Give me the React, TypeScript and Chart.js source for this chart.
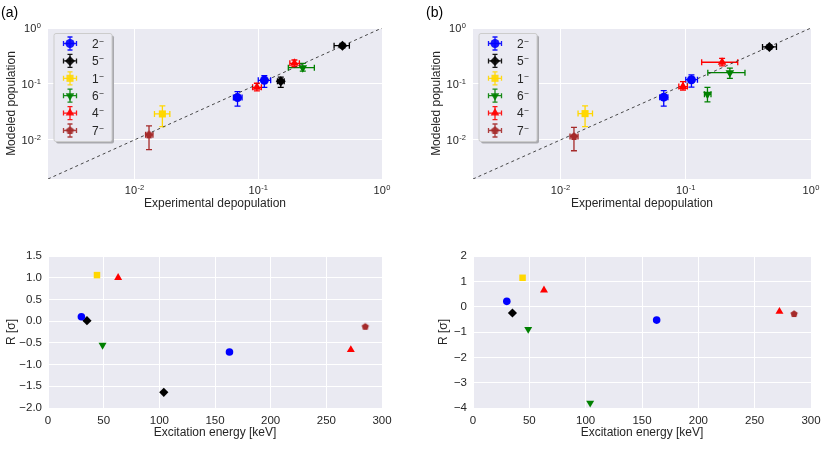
import { useEffect, useRef } from 'react';
import { Chart, registerables } from 'chart.js';
import { drawPoint } from 'chart.js/helpers';

Chart.register(...registerables);

const FONT = "'Liberation Sans', Arial, sans-serif";
const INK = '#262626';
const PANEL_BG = '#eaeaf2';
const CAP = 3;

Chart.defaults.font.family = FONT;
Chart.defaults.color = INK;

const spinLabels = ['2⁻', '5⁻', '1⁻', '6⁻', '4⁻', '7⁻'];
const decadeTicks = [0.01, 0.1, 1];
const decadeExponents = ['-2', '-1', '0'];
const diagonal = [0.002, 1];

// top panels, one row per point: [exp, expLo, expHi, model, modelLo, modelHi]
const popA2 = [[0.068, 0.063, 0.074, 0.057, 0.04, 0.073], [0.112, 0.1, 0.126, 0.116, 0.087, 0.14]];
const popA5 = [[0.479, 0.41, 0.545, 0.483, 0.44, 0.53], [0.152, 0.143, 0.162, 0.112, 0.087, 0.132]];
const popA1 = [[0.0168, 0.0145, 0.0193, 0.0291, 0.0173, 0.0405]];
const popA6 = [[0.229, 0.175, 0.284, 0.195, 0.17, 0.234]];
const popA4 = [[0.0975, 0.09, 0.106, 0.087, 0.075, 0.103], [0.196, 0.18, 0.215, 0.234, 0.204, 0.268]];
const popA7 = [[0.0131, 0.0123, 0.0141, 0.0123, 0.0067, 0.0178]];

const popB2 = [[0.0667, 0.062, 0.072, 0.058, 0.04, 0.076], [0.111, 0.1, 0.124, 0.119, 0.088, 0.145]];
const popB5 = [[0.465, 0.41, 0.53, 0.458, 0.42, 0.5]];
const popB1 = [[0.0157, 0.0138, 0.018, 0.0295, 0.0173, 0.0405]];
const popB6 = [[0.225, 0.15, 0.297, 0.159, 0.126, 0.191], [0.149, 0.141, 0.159, 0.0655, 0.048, 0.087]];
const popB4 = [[0.095, 0.088, 0.103, 0.0896, 0.078, 0.11], [0.195, 0.134, 0.26, 0.244, 0.21, 0.287]];
const popB7 = [[0.0128, 0.0119, 0.0138, 0.0115, 0.0064, 0.0168]];

// bottom panels: [excitation energy keV, R in sigma]
const resA2 = [[30, 0.1], [163, -0.71]];
const resA5 = [[35, 0.01], [104, -1.64]];
const resA1 = [[44, 1.06]];
const resA6 = [[49, -0.55]];
const resA4 = [[63, 1.0], [272, -0.66]];
const resA7 = [[285, -0.13]];

const resB2 = [[30, 0.21], [163, -0.53]];
const resB5 = [[35, -0.25]];
const resB1 = [[44, 1.14]];
const resB6 = [[49, -0.89], [104, -3.8]];
const resB4 = [[63, 0.65], [272, -0.19]];
const resB7 = [[285, -0.29]];

const colors = ['#0000ff', '#000000', '#ffd700', '#008000', '#ff0000', '#a52a2a'];
const shapes = ['circle', 'rectRot', 'rect', 'triangle', 'triangle', 'pentagon'];
const rotations = [0, 0, 0, 180, 0, 0];

function pentagon(color: string, r: number) {
  const c = document.createElement('canvas');
  const s = Math.ceil(2 * r + 2);
  c.width = s;
  c.height = s;
  const g = c.getContext('2d')!;
  g.fillStyle = color;
  g.beginPath();
  for (let k = 0; k < 5; k++) {
    const a = -Math.PI / 2 + (k * 2 * Math.PI) / 5;
    const px = s / 2 + r * Math.cos(a);
    const py = s / 2 + r * Math.sin(a);
    if (k === 0) g.moveTo(px, py);
    else g.lineTo(px, py);
  }
  g.closePath();
  g.fill();
  return c;
}

function markerStyle(i: number, r: number) {
  return shapes[i] === 'pentagon' ? pentagon(colors[i], r) : shapes[i];
}

const panelBg = {
  id: 'panelBg',
  beforeDraw(chart: any) {
    const { ctx, chartArea: a } = chart;
    ctx.save();
    ctx.fillStyle = PANEL_BG;
    ctx.fillRect(a.left, a.top, a.width, a.height);
    ctx.restore();
  },
};

const errorBars = {
  id: 'errorBars',
  beforeDatasetsDraw(chart: any) {
    const { ctx, scales } = chart;
    const x = scales.x;
    const y = scales.y;
    ctx.save();
    ctx.lineWidth = 1.3;
    chart.data.datasets.forEach((ds: any) => {
      if (!ds.errorBars) return;
      ctx.strokeStyle = ds.pointBackgroundColor;
      ds.data.forEach((p: any) => {
        const px = x.getPixelForValue(p.x);
        const py = y.getPixelForValue(p.y);
        const x1 = x.getPixelForValue(p.xLo);
        const x2 = x.getPixelForValue(p.xHi);
        const y1 = y.getPixelForValue(p.yLo);
        const y2 = y.getPixelForValue(p.yHi);
        ctx.beginPath();
        ctx.moveTo(x1, py);
        ctx.lineTo(x2, py);
        ctx.moveTo(x1, py - CAP);
        ctx.lineTo(x1, py + CAP);
        ctx.moveTo(x2, py - CAP);
        ctx.lineTo(x2, py + CAP);
        ctx.moveTo(px, y1);
        ctx.lineTo(px, y2);
        ctx.moveTo(px - CAP, y1);
        ctx.lineTo(px + CAP, y1);
        ctx.moveTo(px - CAP, y2);
        ctx.lineTo(px + CAP, y2);
        ctx.stroke();
      });
    });
    ctx.restore();
  },
};

// draw "10^n" labels for the log axes with a raised, smaller exponent
function drawPower(ctx: any, exp: string, x: number, yMid: number, align: 'center' | 'right') {
  ctx.font = `11px ${FONT}`;
  const wBase = ctx.measureText('10').width;
  ctx.font = `7.5px ${FONT}`;
  const wExp = ctx.measureText(exp).width;
  const total = wBase + wExp + 0.5;
  const x0 = align === 'center' ? x - total / 2 : x - total;
  const base = yMid + 4;
  ctx.fillStyle = INK;
  ctx.textAlign = 'left';
  ctx.textBaseline = 'alphabetic';
  ctx.font = `11px ${FONT}`;
  ctx.fillText('10', x0, base);
  ctx.font = `7.5px ${FONT}`;
  ctx.fillText(exp, x0 + wBase + 0.5, base - 3.8);
}

const powerTicks = {
  id: 'powerTicks',
  afterDraw(chart: any) {
    const { ctx, chartArea, scales } = chart;
    ctx.save();
    decadeTicks.forEach((v, i) => {
      drawPower(ctx, decadeExponents[i], scales.x.getPixelForValue(v), chartArea.bottom + 11, 'center');
      drawPower(ctx, decadeExponents[i], chartArea.left - 7, scales.y.getPixelForValue(v), 'right');
    });
    ctx.restore();
  },
};

// matplotlib-like legend box inside the axes
const legendBox = {
  id: 'legendBox',
  afterDatasetsDraw(chart: any, _args: any, opts: any) {
    if (!opts || !opts.show) return;
    const { ctx, chartArea } = chart;
    const items = chart.data.datasets.filter((d: any) => d.errorBars);
    const bx = chartArea.left + 6;
    const by = chartArea.top + 5.5;
    const bw = 58;
    const bh = 108;
    ctx.save();
    ctx.fillStyle = '#a9a9ae';
    ctx.beginPath();
    ctx.roundRect(bx + 2, by + 2, bw, bh, 2);
    ctx.fill();
    ctx.fillStyle = PANEL_BG;
    ctx.strokeStyle = '#cccccc';
    ctx.lineWidth = 1;
    ctx.beginPath();
    ctx.roundRect(bx, by, bw, bh, 2);
    ctx.fill();
    ctx.stroke();
    items.forEach((ds: any, i: number) => {
      const cy = by + 10 + i * 17.4;
      const mx = bx + 16;
      ctx.globalAlpha = 0.9;
      ctx.strokeStyle = ds.pointBackgroundColor;
      ctx.fillStyle = ds.pointBackgroundColor;
      ctx.lineWidth = 1.3;
      ctx.beginPath();
      ctx.moveTo(mx - 6.5, cy);
      ctx.lineTo(mx + 6.5, cy);
      ctx.moveTo(mx - 6.5, cy - 2.5);
      ctx.lineTo(mx - 6.5, cy + 2.5);
      ctx.moveTo(mx + 6.5, cy - 2.5);
      ctx.lineTo(mx + 6.5, cy + 2.5);
      ctx.moveTo(mx, cy - 6.5);
      ctx.lineTo(mx, cy + 6.5);
      ctx.moveTo(mx - 2.5, cy - 6.5);
      ctx.lineTo(mx + 2.5, cy - 6.5);
      ctx.moveTo(mx - 2.5, cy + 6.5);
      ctx.lineTo(mx + 2.5, cy + 6.5);
      ctx.stroke();
      drawPoint(ctx, { pointStyle: ds.pointStyle, rotation: ds.rotation, radius: ds.pointRadius, borderWidth: 0 }, mx, cy);
      ctx.globalAlpha = 1;
      // spin label: digit with a raised minus
      const digit = ds.label.replace('⁻', '');
      ctx.fillStyle = INK;
      ctx.textAlign = 'left';
      ctx.textBaseline = 'alphabetic';
      ctx.font = `12px ${FONT}`;
      ctx.fillText(digit, bx + 38, cy + 4.3);
      const w = ctx.measureText(digit).width;
      ctx.font = `8.5px ${FONT}`;
      ctx.fillText('−', bx + 38 + w + 0.5, cy + 0.3);
    });
    ctx.restore();
  },
};

const tickFont = { family: FONT, size: 11.5 };
const titleFont = { family: FONT, size: 12 };

function fixY(w: number) {
  return (s: any) => {
    s.width = w;
    s.paddingTop = 0;
    s.paddingBottom = 0;
  };
}
function fixX(h: number) {
  return (s: any) => {
    s.height = h;
    s.paddingLeft = 0;
    s.paddingRight = 0;
  };
}

const gridOpts = { color: '#ffffff', lineWidth: 1, drawTicks: false };

function popConfig(groups: number[][][], padRight: number): any {
  const radii = [4.5, 5, 5, 5, 5, 4.2];
  const datasets: any[] = groups.map((rows, i) => ({
    type: 'scatter',
    label: spinLabels[i],
    data: rows.map((r) => ({ x: r[0], xLo: r[1], xHi: r[2], y: r[3], yLo: r[4], yHi: r[5] })),
    pointStyle: markerStyle(i, radii[i]),
    rotation: rotations[i],
    pointRadius: radii[i],
    pointBackgroundColor: colors[i],
    pointBorderColor: colors[i],
    pointBorderWidth: 0,
    errorBars: true,
    order: 1,
  }));
  datasets.push({
    type: 'line',
    label: '',
    data: diagonal.map((v) => ({ x: v, y: v })),
    borderColor: '#333333',
    borderWidth: 0.9,
    borderDash: [3, 3],
    pointRadius: 0,
    order: 5,
  });
  const logAxis = (title: string, fit: any) => ({
    type: 'logarithmic',
    min: 0.002,
    max: 1,
    afterBuildTicks: (s: any) => {
      s.ticks = decadeTicks.map((v) => ({ value: v, major: true }));
    },
    afterFit: fit,
    ticks: { display: false },
    grid: gridOpts,
    border: { display: false },
    title: { display: true, text: title, font: titleFont, color: INK, padding: 4 },
  });
  return {
    type: 'scatter',
    data: { datasets },
    options: {
      animation: false,
      responsive: false,
      maintainAspectRatio: false,
      layout: { padding: { top: 28, right: padRight, bottom: 0, left: 0 } },
      plugins: { legend: { display: false }, tooltip: { enabled: false }, legendBox: { show: true } },
      scales: {
        x: logAxis('Experimental depopulation', fixX(36)),
        y: logAxis('Modeled population', fixY(48)),
      },
    },
    plugins: [panelBg, errorBars, legendBox, powerTicks],
  };
}

function resConfig(groups: number[][][], yMin: number, yMax: number, yStep: number, digits: number, yWidth: number, padRight: number): any {
  const radii = [3.8, 4.6, 4.6, 4.6, 4.6, 3.8];
  const datasets = groups.map((rows, i) => ({
    type: 'scatter',
    label: spinLabels[i],
    data: rows.map((r) => ({ x: r[0], y: r[1] })),
    pointStyle: markerStyle(i, radii[i]),
    rotation: rotations[i],
    pointRadius: radii[i],
    pointBackgroundColor: colors[i],
    pointBorderColor: colors[i],
    pointBorderWidth: 0,
  }));
  return {
    type: 'scatter',
    data: { datasets },
    options: {
      animation: false,
      responsive: false,
      maintainAspectRatio: false,
      layout: { padding: { top: 16, right: padRight, bottom: 0, left: 0 } },
      plugins: { legend: { display: false }, tooltip: { enabled: false } },
      scales: {
        x: {
          type: 'linear',
          min: 0,
          max: 300,
          afterFit: fixX(36),
          ticks: { stepSize: 50, font: tickFont, color: INK, padding: 6, maxRotation: 0 },
          grid: gridOpts,
          border: { display: false },
          title: { display: true, text: 'Excitation energy [keV]', font: titleFont, color: INK, padding: 4 },
        },
        y: {
          type: 'linear',
          min: yMin,
          max: yMax,
          afterFit: fixY(yWidth),
          ticks: {
            stepSize: yStep,
            font: tickFont,
            color: INK,
            padding: 6,
            callback: (v: number) => v.toFixed(digits).replace('-', '−'),
          },
          grid: gridOpts,
          border: { display: false },
          title: { display: true, text: 'R [σ]', font: titleFont, color: INK, padding: 4 },
        },
      },
    },
    plugins: [panelBg],
  };
}

function ChartPanel({ left, top, width, height, makeConfig }: { left: number; top: number; width: number; height: number; makeConfig: () => any }) {
  const ref = useRef<HTMLCanvasElement>(null);
  useEffect(() => {
    if (!ref.current) return;
    const chart = new Chart(ref.current, makeConfig());
    return () => chart.destroy();
  }, []);
  return (
    <canvas
      ref={ref}
      width={width}
      height={height}
      style={{ position: 'absolute', left, top, width, height, display: 'block' }}
    />
  );
}

const labelStyle: any = { position: 'absolute', top: 4, fontFamily: FONT, fontSize: 14, color: '#000', lineHeight: '16px' };

export default function App() {
  return (
    <div style={{ position: 'absolute', left: 0, top: 0, width: 830, height: 476, background: '#fff', overflow: 'hidden' }}>
      <ChartPanel left={0} top={0} width={400} height={215}
        makeConfig={() => popConfig([popA2, popA5, popA1, popA6, popA4, popA7], 18)} />
      <ChartPanel left={425} top={0} width={405} height={215}
        makeConfig={() => popConfig([popB2, popB5, popB1, popB6, popB4, popB7], 19)} />
      <ChartPanel left={0} top={240} width={400} height={204}
        makeConfig={() => resConfig([resA2, resA5, resA1, resA6, resA4, resA7], -2, 1.5, 0.5, 1, 48, 18)} />
      <ChartPanel left={432} top={240} width={398} height={204}
        makeConfig={() => resConfig([resB2, resB5, resB1, resB6, resB4, resB7], -4, 2, 1, 0, 41, 19)} />
      <div style={{ ...labelStyle, left: 1 }}>(a)</div>
      <div style={{ ...labelStyle, left: 426 }}>(b)</div>
    </div>
  );
}
